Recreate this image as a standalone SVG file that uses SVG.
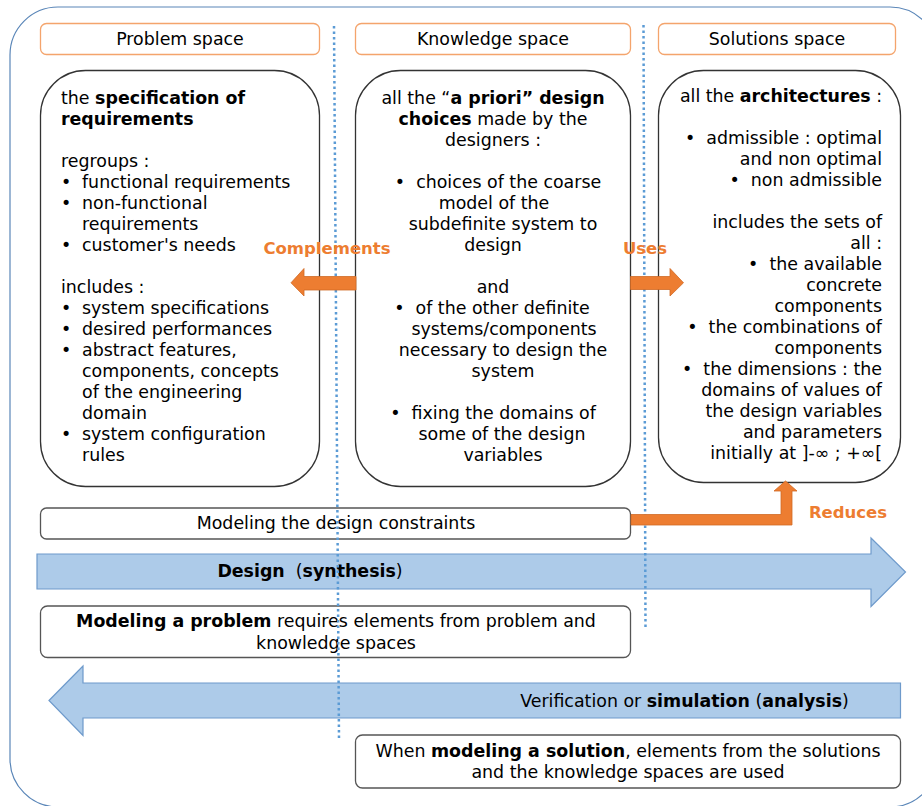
<svg xmlns="http://www.w3.org/2000/svg" width="922" height="806" viewBox="0 0 922 806">
<style>
text{font-family:"DejaVu Sans","Noto Sans",sans-serif;font-size:17.4px;fill:#000;white-space:pre}
.b{font-weight:bold}
.hdr{fill:#fff;stroke:#f4a46c;stroke-width:1.3}
.main{fill:#fff;stroke:#333;stroke-width:1.3}
.note{fill:#fff;stroke:#555;stroke-width:1.3}
.dot{fill:none;stroke:#5b9bd5;stroke-width:2.5;stroke-dasharray:2.5 3}
.oarr{fill:#ed7d31;stroke:#d06a25;stroke-width:0.8}
.barr{fill:#adcbe9;stroke:#6e9acb;stroke-width:1.2}
.olab{fill:#ed7d31;font-weight:bold;font-size:16.5px}
.m{text-anchor:middle}
.e{text-anchor:end}
</style>
<rect x="10" y="7" width="928" height="800" rx="48" fill="#fff" stroke="#5a86b8" stroke-width="1.2"/>

<g id="problem-header"><rect class="hdr" x="40.5" y="23.5" width="279" height="31" rx="6"/><text class="m" x="180" y="45">Problem space</text></g>
<g id="knowledge-header"><rect class="hdr" x="355.5" y="23.5" width="275" height="31" rx="6"/><text class="m" x="493" y="45">Knowledge space</text></g>
<g id="solutions-header"><rect class="hdr" x="658.5" y="23.5" width="237" height="31" rx="6"/><text class="m" x="777" y="45">Solutions space</text></g>

<g id="problem-space">
<rect class="main" x="40.5" y="70.5" width="279" height="416" rx="45"/>
<text x="61" y="104">the <tspan class="b">specification of</tspan></text>
<text x="61" y="125" class="b">requirements</text>
<text x="61" y="167">regroups :</text>
<text x="61" y="188">•</text><text x="82" y="188">functional requirements</text>
<text x="61" y="209">•</text><text x="82" y="209">non-functional</text>
<text x="82" y="230">requirements</text>
<text x="61" y="251">•</text><text x="82" y="251">customer's needs</text>
<text x="61" y="293">includes :</text>
<text x="61" y="314">•</text><text x="82" y="314">system specifications</text>
<text x="61" y="335">•</text><text x="82" y="335">desired performances</text>
<text x="61" y="356">•</text><text x="82" y="356">abstract features,</text>
<text x="82" y="377">components, concepts</text>
<text x="82" y="398">of the engineering</text>
<text x="82" y="419">domain</text>
<text x="61" y="440">•</text><text x="82" y="440">system configuration</text>
<text x="82" y="461">rules</text>
</g>

<g id="knowledge-space">
<rect class="main" x="355.5" y="70.5" width="275" height="416" rx="45"/>
<text class="m" x="493" y="104">all the “<tspan class="b">a priori” design</tspan></text>
<text class="m" x="493" y="125"><tspan class="b">choices</tspan> made by the</text>
<text class="m" x="493" y="146">designers :</text>
<text class="m" x="498" y="188">•  choices of the coarse</text>
<text class="m" x="494" y="209">model of the</text>
<text class="m" x="503" y="230">subdefinite system to</text>
<text class="m" x="493" y="251">design</text>
<text class="m" x="493" y="293">and</text>
<text class="m" x="492" y="314">•  of the other definite</text>
<text class="m" x="504" y="335">systems/components</text>
<text class="m" x="503" y="356">necessary to design the</text>
<text class="m" x="503" y="377">system</text>
<text class="m" x="493" y="419">•  fixing the domains of</text>
<text class="m" x="502" y="440">some of the design</text>
<text class="m" x="503" y="461">variables</text>
</g>

<g id="solutions-space">
<rect class="main" x="658.5" y="70.5" width="242" height="412" rx="45"/>
<text class="e" x="882" y="102">all the <tspan class="b">architectures</tspan> :</text>
<text class="e" x="882" y="144">•  admissible : optimal</text>
<text class="e" x="882" y="165">and non optimal</text>
<text class="e" x="882" y="186">•  non admissible</text>
<text class="e" x="882" y="228">includes the sets of</text>
<text class="e" x="882" y="249">all :</text>
<text class="e" x="882" y="270">•  the available</text>
<text class="e" x="882" y="291">concrete</text>
<text class="e" x="882" y="312">components</text>
<text class="e" x="882" y="333">•  the combinations of</text>
<text class="e" x="882" y="354">components</text>
<text class="e" x="882" y="375">•  the dimensions : the</text>
<text class="e" x="882" y="396">domains of values of</text>
<text class="e" x="882" y="417">the design variables</text>
<text class="e" x="882" y="438">and parameters</text>
<text class="e" x="882" y="459">initially at ]-∞ ; +∞[</text>
</g>

<g id="constraints-box"><rect class="note" x="40.5" y="508" width="590" height="31" rx="6"/><text class="m" x="336" y="529">Modeling the design constraints</text></g>

<g id="design-arrow"><path class="barr" d="M37,554 L871,554 L871,538 L905.5,572 L871,606.5 L871,589 L37,589 Z"/><text class="m" x="310" y="577"><tspan class="b">Design</tspan>  (<tspan class="b">synthesis</tspan>)</text></g>

<g id="problem-modeling-box"><rect class="note" x="40.5" y="606" width="590" height="51.5" rx="7"/><text class="m" x="336" y="627"><tspan class="b">Modeling a problem</tspan> requires elements from problem and</text><text class="m" x="336" y="649">knowledge spaces</text></g>

<g id="analysis-arrow"><path class="barr" d="M49,700.5 L83,666 L83,683 L900.5,683 L900.5,718 L83,718 L83,735.5 Z"/><text class="m" x="684.5" y="707">Verification or <tspan class="b">simulation</tspan> (<tspan class="b">analysis</tspan>)</text></g>

<g id="solution-modeling-box"><rect class="note" x="355.5" y="735" width="545" height="53" rx="7"/><text class="m" x="628" y="757">When <tspan class="b">modeling a solution</tspan>, elements from the solutions</text><text class="m" x="628" y="778">and the knowledge spaces are used</text></g>

<g id="connectors">
<path class="dot" d="M334,26 L339,740"/>
<path class="dot" d="M643.5,25 L645.5,629"/>
<path class="oarr" d="M356,276.5 L304,276.5 L304,268.5 L291,282.8 L304,296 L304,290 L356,290 Z"/>
<path class="oarr" d="M630.5,276.5 L670,276.5 L670,268.5 L683.5,282.8 L670,296 L670,289.5 L630.5,289.5 Z"/>
<path class="oarr" d="M631,514.5 L781,514.5 L781,491 L774,491 L785.5,481 L797,491 L792,491 L792,525 L631,525 Z"/>
<text class="olab m" x="327" y="254">Complements</text>
<text class="olab m" x="645" y="254">Uses</text>
<text class="olab m" x="848" y="518">Reduces</text>
</g>
</svg>
